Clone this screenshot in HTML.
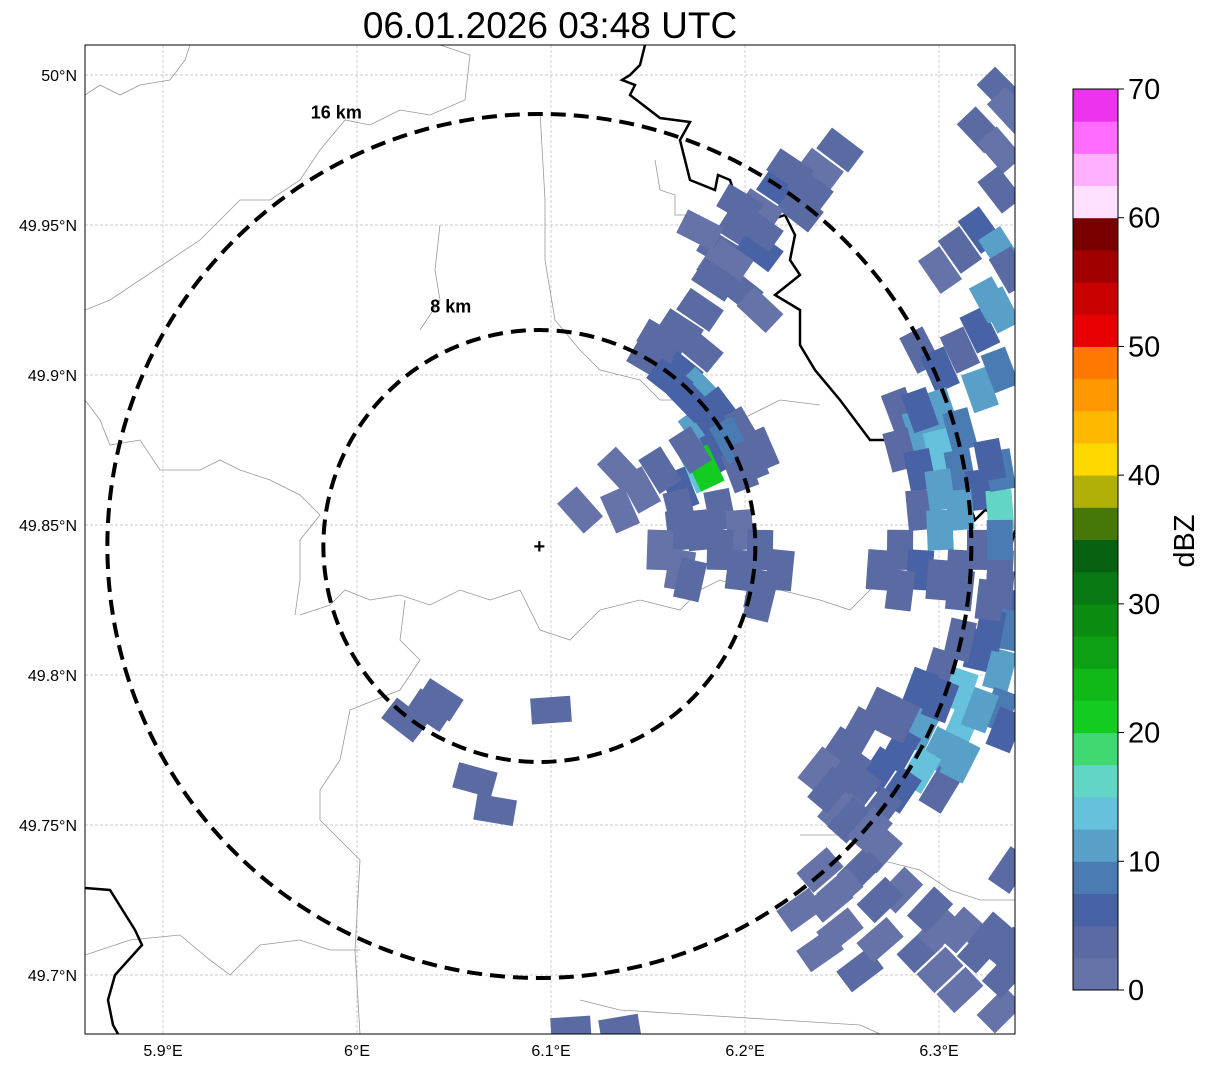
<!DOCTYPE html>
<html><head><meta charset="utf-8"><style>
body{margin:0;background:#fff;font-family:"Liberation Sans",sans-serif}
svg text{font-family:"Liberation Sans",sans-serif}
</style></head><body>
<svg id="chart" width="1207" height="1069" viewBox="0 0 1207 1069" xmlns="http://www.w3.org/2000/svg">
<rect width="1207" height="1069" fill="#fff"/>
<text x="550" y="38" font-size="37" text-anchor="middle">06.01.2026 03:48 UTC</text>
<defs><clipPath id="mapclip"><rect x="85" y="45" width="930" height="989"/></clipPath></defs>
<g id="grid"></g>
<g id="borders" clip-path="url(#mapclip)"></g>
<g id="echoes" clip-path="url(#mapclip)"></g>
<g id="rings" clip-path="url(#mapclip)"></g>
<rect x="85" y="45" width="930" height="989" fill="none" stroke="#000" stroke-width="1"/>
<g id="axes"></g>
<g id="cbar"></g>
</svg>
<script>
const lonTicks=[5.9,6.0,6.1,6.2,6.3];
const lonLabels=["5.9°E","6°E","6.1°E","6.2°E","6.3°E"];
const latTicks=[50.0,49.95,49.9,49.85,49.8,49.75,49.7];
const latLabels=["50°N","49.95°N","49.9°N","49.85°N","49.8°N","49.75°N","49.7°N"];
const radarLon=6.094, radarLat=49.843;
const ringKm=[8,16];
const ringLabels=["8 km","16 km"];
const cbTicks=[0,10,20,30,40,50,60,70];
const cbColors=["#6673a8","#5a6aa2","#4862a6","#4a7bb2","#58a0c8","#66c2dc","#62d6c6","#40d870","#12cc22","#10b818","#0ea014","#0b8c10","#087812","#056010","#457808","#b0b008","#ffd800","#ffb800","#ff9800","#ff7800","#e60000","#c80000","#a00000","#780000","#ffe0ff","#ffb0ff","#ff6cff","#ee33ee"];
const cellLon=[6.3314,6.3366,6.3211,6.3314,6.249,6.2387,6.218,6.2284,6.2077,6.1974,6.1871,6.2077,6.1768,6.1871,6.1974,6.2077,
6.3314,6.3211,6.3108,6.3314,6.3366,6.3005,6.3314,6.3211,6.3108,6.2902,6.3005,6.3211,6.3314,
6.2799,6.2902,6.3005,6.3005,6.2799,6.3108,6.2902,6.3211,6.3108,6.3314,6.3314,6.2902,6.3005,6.3211,6.2799,6.2902,6.2696,6.2799,6.3108,6.3314,6.3366,
6.1768,6.1665,6.1562,6.1665,6.1768,6.1871,6.1974,6.1768,6.1871,6.2077,6.1974,6.1768,6.1665,6.1562,6.1459,6.1356,6.179,6.1871,6.1665,6.1974,6.1562,6.2077,6.218,6.2077,6.1665,6.1356,6.115,
6.3211,6.3314,6.3005,6.2902,6.3108,6.3314,6.2696,6.2902,6.3108,6.2593,6.2799,6.3005,6.249,6.2696,6.2902,6.2387,6.2593,6.2799,6.3005,6.2696,6.249,6.2696,6.2593,6.2387,6.249,6.2799,6.2284,6.2387,6.2593,6.249,6.2902,6.3005,6.3211,6.3108,6.3366,6.3314,6.3005,6.3366,6.3314,6.3366,
6.0247,6.0376,6.0427,6.0608,6.0712,6.1,6.1103,6.1356,
6.3108,6.3262,6.3005,6.2799,6.2541,6.2438,6.2541,6.2644,6.3108,6.3211,6.334,6.2438,6.2696,6.2696,6.2954,6.3108,6.3262,6.334,
6.2902,6.3108,6.3262,6.3005,6.3314,6.3005,6.3108,6.3262,6.3262,
6.1717,6.182,6.1923,6.2025,6.1717,6.1665,6.1768,6.1871,6.1974,6.2077,6.1717,6.1562,6.151,6.1613,6.1768,
6.2232,6.2335,6.2077,6.1923,6.1845,6.1974];
const cellLat=[49.995,49.9883,49.9817,49.975,49.975,49.9683,49.9617,49.955,49.955,49.9483,49.9417,49.9417,49.9483,49.935,49.9283,49.9217,
49.9617,49.9483,49.9417,49.9417,49.935,49.935,49.9217,49.915,49.9083,49.9083,49.9017,49.895,49.9017,
49.8883,49.8817,49.8883,49.875,49.875,49.8683,49.8683,49.8617,49.855,49.855,49.8683,49.855,49.8483,49.8417,49.8417,49.835,49.835,49.8283,49.835,49.835,49.8217,
49.9217,49.915,49.9083,49.9017,49.895,49.8883,49.8817,49.8817,49.875,49.875,49.8683,49.8683,49.8617,49.8683,49.8617,49.8683,49.869,49.855,49.8483,49.8483,49.8417,49.8417,49.835,49.8283,49.835,49.855,49.855,
49.8083,49.8017,49.8017,49.795,49.795,49.7883,49.7883,49.7817,49.7817,49.7817,49.775,49.775,49.775,49.7683,49.7683,49.7683,49.7617,49.7617,49.7617,49.755,49.755,49.7417,49.735,49.735,49.7283,49.7283,49.7217,49.7083,49.7017,49.715,49.7083,49.715,49.7083,49.695,49.7083,49.6883,49.7017,49.735,49.8283,49.815,
49.785,49.7883,49.7917,49.765,49.755,49.7883,49.6817,49.6817,
49.8117,49.815,49.7917,49.785,49.7683,49.7617,49.7517,49.7483,49.7717,49.7883,49.7817,49.725,49.725,49.7117,49.7217,49.715,49.7133,49.7,
49.8883,49.8817,49.8717,49.8617,49.845,49.8317,49.8283,49.825,49.925,
49.8917,49.885,49.8783,49.8717,49.875,49.855,49.8483,49.8417,49.835,49.825,49.8317,49.9117,49.905,49.8983,49.9083,
49.9683,49.9617,49.9483,49.9383,49.9317,49.9567];
const cellDbz=[3,2,4,2,3,2,5,3,2,4,3,6,2,2,3,2,
3,5,3,10,4,2,12,6,4,3,5,11,8,
3,10,12,14,4,9,5,6,11,17,8,4,12,3,4,5,3,4,4,3,5,
3,4,3,6,10,7,4,12,5,3,4,14,6,3,2,2,20,4,3,2,2,3,4,3,2,2,2,
6,12,4,5,13,8,3,10,14,4,6,12,3,5,13,2,4,7,3,3,2,2,3,2,2,2,1,2,3,2,3,2,3,2,4,2,2,3,4,8,
3,4,3,3,4,3,3,3,
4,6,5,3,4,3,3,2,10,12,6,2,3,2,3,2,3,3,
6,8,5,10,9,3,4,4,10,
5,6,8,3,4,4,3,4,3,4,3,4,3,5,3,
4,3,3,2,3,4];

const NS="http://www.w3.org/2000/svg";
const X=lon=>551+(lon-6.1)*1940;
const Y=lat=>975-(lat-49.7)*3000;
const PXKM=27;
function mk(tag,attrs,parent){const e=document.createElementNS(NS,tag);for(const k in attrs)e.setAttribute(k,attrs[k]);parent.appendChild(e);return e;}

const grid=document.getElementById('grid'), axes=document.getElementById('axes');
lonTicks.forEach((v,i)=>{
  const x=X(v);
  const l=mk('line',{x1:x,x2:x,y1:45,y2:1034,stroke:'#bbb','stroke-width':0.7,'stroke-dasharray':'3,2'},grid);
  
  
  const t=mk('text',{x:x,y:1056,'font-size':16,'text-anchor':'middle'},axes);
  t.textContent=lonLabels[i];
  
  
});
latTicks.forEach((v,i)=>{
  const y=Y(v);
  const l=mk('line',{x1:85,x2:1015,y1:y,y2:y,stroke:'#bbb','stroke-width':0.7,'stroke-dasharray':'3,2'},grid);
  
  
  const t=mk('text',{x:77,y:y+6,'font-size':16,'text-anchor':'end'},axes);
  t.textContent=latLabels[i];
  
  
});

const borders=document.getElementById('borders');
const grayLines=[
 [[85,95],[100,85],[120,95],[140,85],[170,80],[185,60],[190,45]],
 [[440,45],[470,55],[465,100],[430,115],[400,110],[370,125],[345,120],[320,150],[300,180],[270,200],[240,200],[200,240],[170,260],[110,300],[85,310]],
 [[540,112],[545,200],[545,260],[555,320],[580,350],[600,370],[640,380],[660,400],[700,400],[740,420],[780,400],[820,405]],
 [[85,400],[100,420],[110,445],[140,440],[160,470],[200,470],[220,460],[240,470],[270,480],[300,495],[320,515],[300,540],[300,580],[295,615]],
 [[300,615],[330,605],[345,590],[370,600],[400,595],[430,605],[460,590],[490,600],[520,590],[540,630],[570,640],[600,610],[640,600],[680,610],[700,590],[720,580],[750,590],[780,590],[820,600],[850,610],[870,590],[890,550],[905,540]],
 [[405,600],[400,640],[420,660],[400,690],[350,710],[340,760],[320,790],[320,820],[360,860],[355,950],[360,1034]],
 [[85,955],[130,940],[180,935],[210,960],[230,975],[260,945],[300,940],[330,950],[360,950]],
 [[440,225],[435,270],[440,300],[420,330]],
 [[800,835],[850,835],[880,860],[920,870],[950,890],[980,900],[1015,900]],
 [[580,1000],[620,1010],[700,1015],[780,1020],[860,1025],[880,1034]],
 [[655,160],[660,190],[675,195],[675,215],[700,215]]
];
grayLines.forEach(p=>{
  const e=mk('polyline',{points:p.map(q=>q.join(',')).join(' '),fill:'none',stroke:'#999','stroke-width':0.8},borders);
  
  
});
const blackLines=[
 [[645,45],[640,65],[630,75],[622,80],[635,85],[630,95],[660,118],[690,122],[680,140],[690,180],[715,190],[718,175],[730,180],[740,210],[760,205],[770,220],[785,215],[795,235],[790,260],[800,275],[775,295],[800,310],[800,345],[815,370],[840,400],[855,420],[870,440],[885,440],[905,445],[920,460],[935,470],[950,460],[965,470],[968,500],[975,520],[985,510],[1000,515],[1005,530],[995,555],[985,565],[1000,565],[1010,550],[1015,530]],
 [[85,888],[110,890],[135,930],[142,945],[115,975],[108,1000],[113,1025],[118,1034]]
];
blackLines.forEach(p=>{
  const e=mk('polyline',{points:p.map(q=>q.join(',')).join(' '),fill:'none',stroke:'#000','stroke-width':2.5},borders);
  
  
});

const echoes=document.getElementById('echoes');
const cx=X(radarLon), cy=Y(radarLat);
cellLon.forEach((lon,i)=>{
  const x=X(lon), y=Y(cellLat[i]);
  const ang=Math.atan2(y-cy,x-cx)*180/Math.PI+90;
  const bin=Math.max(0,Math.min(cbColors.length-1,Math.floor(cellDbz[i]/2.5)));
  const r=mk('rect',{x:x-20,y:y-13,width:40,height:26,fill:cbColors[bin],transform:`rotate(${ang.toFixed(1)} ${x} ${y})`},echoes);
  
  
});

const rings=document.getElementById('rings');
const labDx=[-0.41,-0.47], labDy=[-1.08,-0.99];
ringKm.forEach((km,i)=>{
  const R=km*PXKM;
  const c=mk('circle',{cx:cx,cy:cy,r:R,fill:'none',stroke:'#000','stroke-width':4,'stroke-dasharray':'15,8'},rings);
  
  
  const t=mk('text',{x:cx+labDx[i]*R,y:cy+labDy[i]*R,'font-size':18,'font-weight':'bold','text-anchor':'middle'},rings);
  t.textContent=ringLabels[i];
  
  
});
const m=mk('text',{x:cx,y:cy+7,'font-size':20,'font-weight':'bold','text-anchor':'middle'},rings);
m.textContent='+';



const cb=document.getElementById('cbar');
const cbTop=89, cbBot=990, cbX=1073, cbW=45;
const binH=(cbBot-cbTop)/cbColors.length;
cbColors.forEach((c,i)=>{
  const r=mk('rect',{x:cbX,y:cbBot-(i+1)*binH,width:cbW,height:binH+0.5,fill:c},cb);
  
  
});
mk('rect',{x:cbX,y:cbTop,width:cbW,height:cbBot-cbTop,fill:'none',stroke:'#000','stroke-width':1},cb);
cbTicks.forEach(v=>{
  const y=cbBot-(v/70)*(cbBot-cbTop);
  mk('line',{x1:cbX+cbW,x2:cbX+cbW+6,y1:y,y2:y,stroke:'#000'},cb);
  const t=mk('text',{x:cbX+cbW+10,y:y+10,'font-size':29},cb);
  t.textContent=v;
  
  
});
const lab=mk('text',{x:1194,y:541,'font-size':29,'text-anchor':'middle',transform:'rotate(-90 1194 541)'},cb);
lab.textContent='dBZ';


</script>
</body></html>
